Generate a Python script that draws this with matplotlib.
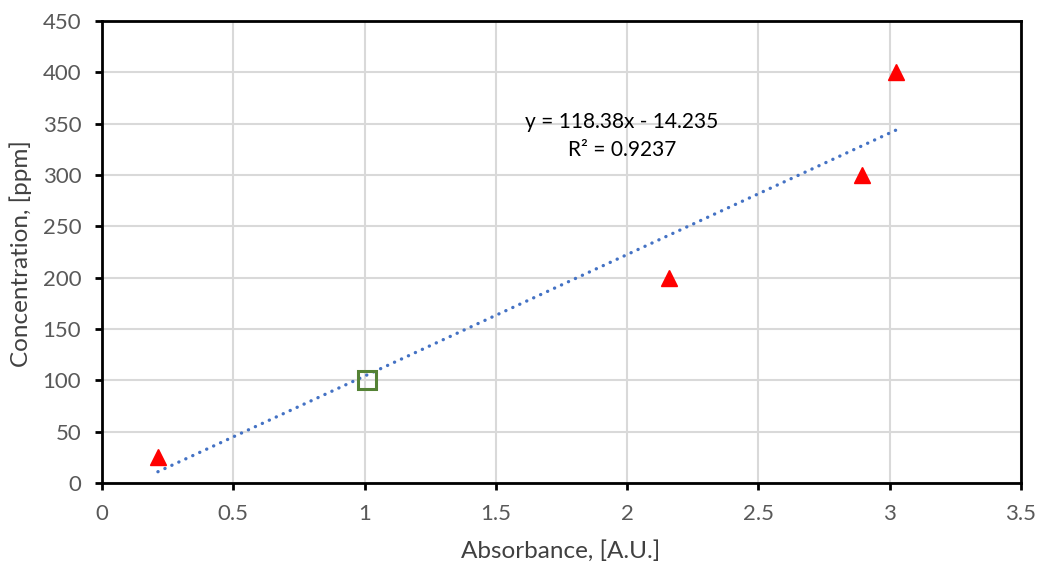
import numpy as np
import matplotlib.pyplot as plt

# data
absorbance = [0.213, 2.159, 2.894, 3.024]
concentration = [25, 200, 300, 400]
check_x = [1.009]
check_y = [100]

# trendline as printed on the chart
slope = 118.38
intercept = -14.235
r2 = 0.9237

plt.rcParams['font.family'] = ['Lato', 'DejaVu Sans']

fig = plt.figure(figsize=(10.38, 5.66), dpi=100)
ax = fig.add_axes([102/1038, 1 - 483/566, (1021-102)/1038, (483-21)/566])

all_x = absorbance + check_x
xs = np.array([min(all_x), max(all_x)])
ax.plot(xs, slope*xs + intercept, color='#4472C4', lw=2.4,
        linestyle=(0, (0.05, 2.25)), dash_capstyle='round', zorder=2)

ax.plot(absorbance, concentration, '^', color='red', markersize=12, zorder=3)
ax.plot(check_x, check_y, 's', markerfacecolor='none', markeredgecolor='#548235',
        markeredgewidth=2.2, markersize=12.5, zorder=3)

ax.text(1.98, 352, 'y = 118.38x - 14.235', ha='center', va='center', fontsize=15, color='black')
ax.text(1.98, 324, 'R² = %.4f' % r2, ha='center', va='center', fontsize=15, color='black')

ax.set_xlim(0, 3.5)
ax.set_ylim(0, 450)
ax.set_xticks(np.arange(0, 3.51, 0.5))
ax.set_xticklabels(['0', '0.5', '1', '1.5', '2', '2.5', '3', '3.5'])
ax.set_yticks(np.arange(0, 451, 50))
ax.grid(True, color='#d9d9d9', lw=1.5)
ax.set_axisbelow(True)

for s in ax.spines.values():
    s.set_color('black')
    s.set_linewidth(2)
ax.tick_params(direction='out', length=5, width=2, color='black',
               labelsize=16, labelcolor='#595959', pad=10)

ax.set_xlabel('Absorbance, [A.U.]', fontsize=17.5, color='#404040')
ax.set_ylabel('Concentration, [ppm]', fontsize=17.5, color='#404040')
ax.xaxis.set_label_coords((561-102)/919, (483-540)/462)
ax.yaxis.set_label_coords((32-102)/919, (483-254)/462)

fig.savefig('out.png', dpi=100)
